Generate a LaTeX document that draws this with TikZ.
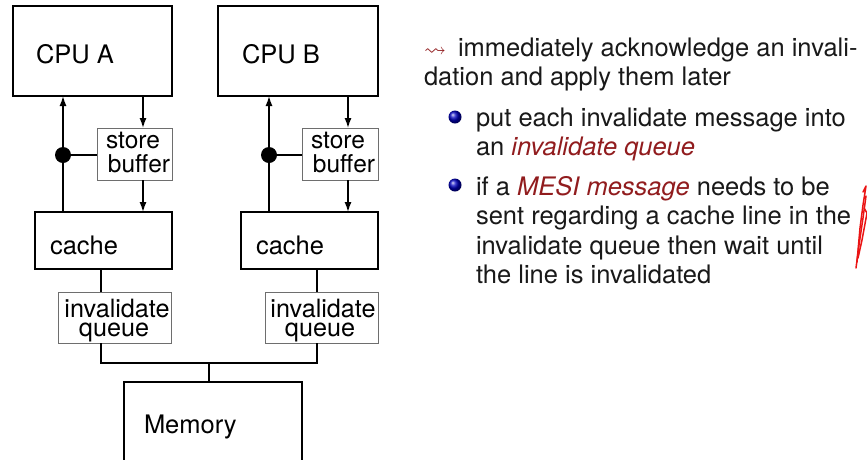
\documentclass[tikz,border=0pt]{standalone}
\usepackage{fontspec}
\setmainfont{TeX Gyre Heros}
\usepackage{amssymb}
\usetikzlibrary{arrows.meta}
\definecolor{alertred}{RGB}{145,28,30}
\definecolor{boxgray}{RGB}{110,110,110}
\definecolor{inkred}{RGB}{235,20,20}
\newcommand{\alerttext}[1]{{\color{alertred}\itshape #1}}
\tikzset{
  every node/.style={inner sep=0pt, outer sep=0pt, font=\fontsize{25.5}{30}\selectfont},
  bigbox/.style={draw, line width=2pt, anchor=north west},
  cachebox/.style={draw, line width=1.4pt, anchor=north west},
  smallbox/.style={draw=boxgray, line width=0.9pt, anchor=north west},
  smalltext/.style={anchor=base, font=\fontsize{24.5}{24}\selectfont},
  queuetext/.style={anchor=base, font=\fontsize{25.2}{24}\selectfont},
  boxtext/.style={anchor=base west},
  conn/.style={line width=1.4pt},
  arr/.style={conn, -{Latex[length=10pt,width=7pt]}},
  bodytext/.style={anchor=base west, text=black!90},
  bulletball/.style={ball color=blue!75!black},
  pen/.style={draw=inkred, line width=1.5pt, line cap=round, line join=round}
}
\begin{document}
\begin{tikzpicture}[x=1pt,y=-1pt]
\clip (0,0) rectangle (867,459);
\fill[white] (0,0) rectangle (867,459);

% boxes
\node[bigbox, minimum width=159pt, minimum height=90pt] (cpuA) at (13,6) {};
\node[bigbox, minimum width=160pt, minimum height=90pt] (cpuB) at (218,6) {};
\node[smallbox, minimum width=75pt, minimum height=52pt] (sbA) at (97,128) {};
\node[smallbox, minimum width=76pt, minimum height=52pt] (sbB) at (302,128) {};
\node[cachebox, minimum width=137pt, minimum height=57pt] (cacheA) at (35,212) {};
\node[cachebox, minimum width=137pt, minimum height=57pt] (cacheB) at (241,212) {};
\node[smallbox, minimum width=113pt, minimum height=51pt] (iqA) at (58,292) {};
\node[smallbox, minimum width=113pt, minimum height=51pt] (iqB) at (265,292) {};
\node[bigbox, minimum width=178pt, minimum height=100pt] (mem) at (124,382) {};

% box texts
\node[boxtext] (cpuAt) at (36,63) {CPU A};
\node[boxtext] (cpuBt) at (242,63) {CPU B};
\node[smalltext] (sbAt1) at (133,148) {store};
\node[smalltext] (sbAt2) at (139,172) {buffer};
\node[smalltext] (sbBt1) at (338,148) {store};
\node[smalltext] (sbBt2) at (344,172) {buffer};
\node[boxtext] (cacheAt) at (50,254) {cache};
\node[boxtext] (cacheBt) at (256,254) {cache};
\node[queuetext] (iqAt1) at (117,317) {invalidate};
\node[queuetext] (iqAt2) at (114,336) {queue};
\node[queuetext] (iqBt1) at (323,317) {invalidate};
\node[queuetext] (iqBt2) at (320,336) {queue};
\node[boxtext] (memt) at (144,433) {Memory};

% helper coordinates
\coordinate (dA) at (63,155);
\coordinate (dB) at (269,155);
\coordinate (xa) at (143,150);
\coordinate (xb) at (348,150);
\coordinate (qa) at (101,280);
\coordinate (qb) at (317,280);
\coordinate (bus) at (209,363);

% connectors
\draw[arr] (cacheA.north -| dA) -- (cpuA.south -| dA);
\draw[conn] (dA) -- (sbA.west |- dA);
\fill (dA) circle (8);
\draw[arr] (cpuA.south -| xa) -- (sbA.north -| xa);
\draw[arr] (sbA.south -| xa) -- (cacheA.north -| xa);

\draw[arr] (cacheB.north -| dB) -- (cpuB.south -| dB);
\draw[conn] (dB) -- (sbB.west |- dB);
\fill (dB) circle (8);
\draw[arr] (cpuB.south -| xb) -- (sbB.north -| xb);
\draw[arr] (sbB.south -| xb) -- (cacheB.north -| xb);

\draw[conn] (cacheA.south -| qa) -- (iqA.north -| qa);
\draw[conn] (cacheB.south -| qb) -- (iqB.north -| qb);
\draw[conn] (iqA.south -| qa) |- (bus) -| (iqB.south -| qb);
\draw[conn] (bus) -- (mem.north -| bus);

% right-hand text
\node[anchor=base west, text=alertred, font=\fontsize{22}{22}\selectfont] (lto) at (424,56) {$\leadsto$};
\node[bodytext] (l1) at (458,56) {immediately acknowledge an invali-};
\node[bodytext] (l2) at (424,85.5) {dation and apply them later};
\shade[bulletball] (455,117) circle (6.5);
\node[bodytext] (l3) at (476,126.5) {put each invalidate message into};
\node[bodytext] (l4) at (476,155.5) {an \alerttext{invalidate queue}};
\shade[bulletball] (455,185) circle (6.5);
\node[bodytext] (l5) at (476,195) {if a \alerttext{MESI message} needs to be};
\node[bodytext] (l6) at (476,224.5) {sent regarding a cache line in the};
\node[bodytext] (l7) at (476,254) {invalidate queue then wait until};
\node[bodytext] (l8) at (476,283.5) {the line is invalidated};

% red pen annotation
\draw[pen] (863,192) -- (866,186) -- (863,205) -- (860,228) -- (857,262);
\draw[pen] (866,196) -- (863,218) -- (859,245) -- (856,268);
\draw[pen] (864,208) -- (867,213) -- (862,240) -- (858,258);
\end{tikzpicture}
\end{document}
